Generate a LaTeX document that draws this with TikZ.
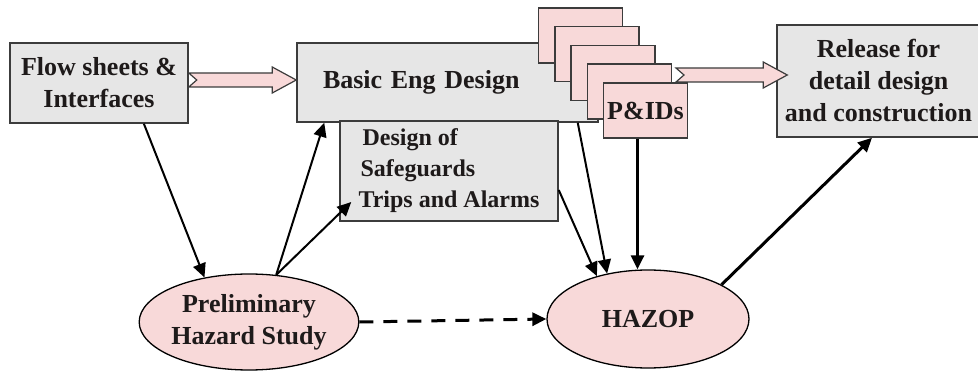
\documentclass[tikz,border=0pt]{standalone}
\usepackage{fontspec}
\setmainfont{Liberation Serif}
\usetikzlibrary{arrows.meta,shapes.geometric,calc}

\definecolor{boxgray}{HTML}{E6E6E6}
\definecolor{blobpink}{HTML}{F8D9D9}
\definecolor{edgegray}{HTML}{3C3C3C}
\definecolor{inkdark}{HTML}{1E1A1A}

\newcommand{\diagfont}{\fontsize{26}{32}\selectfont\bfseries}

\tikzset{
  graybox/.style={draw=edgegray, line width=1.5pt, fill=boxgray, inner sep=0pt,
    align=center, font=\diagfont},
  sheet/.style={draw=edgegray, line width=1.5pt, fill=blobpink, inner sep=0pt,
    minimum width=84pt, minimum height=55pt, font=\diagfont},
  blob/.style={ellipse, draw=black, line width=1.3pt, fill=blobpink, inner sep=0pt,
    align=center, font=\diagfont},
  conn/.style={line width=2pt, -{Triangle[length=14pt,width=13pt]}},
  fatarrow/.style={draw=edgegray, line width=1.2pt, fill=blobpink, line join=miter}
}

% hollow block arrow: start, tip
\newcommand{\hollowarrow}[2]{%
  \draw[fatarrow] let \p1=(#1), \p2=(#2) in
    (\x1,\y1+7pt) -- (\x2-24pt,\y1+7pt) -- (\x2-24pt,\y1+13pt) -- (\x2,\y1)
    -- (\x2-24pt,\y1-13pt) -- (\x2-24pt,\y1-7pt) -- (\x1,\y1-7pt)
    -- (\x1+8pt,\y1) -- cycle;}

\begin{document}
\begin{tikzpicture}[x=1pt,y=-1pt,text=inkdark]
\useasboundingbox (0,0) rectangle (978,371);

% boxes
\node[graybox, minimum width=178pt, minimum height=80pt] (flow) at (99,83)
  {Flow sheets \&\\Interfaces};
\node[graybox, minimum width=301pt, minimum height=79pt, text width=249pt,
  inner xsep=26pt, align=left] (basic) at (447.5,82.5) {Basic Eng Design};
\node[graybox, minimum width=218pt, minimum height=100pt, align=left,
  font=\fontsize{24}{31}\selectfont\bfseries] (design) at (449,171)
  {\hspace*{4pt}Design of\\\hspace*{2pt}Safeguards\\Trips and Alarms};
\node[graybox, minimum width=203pt, minimum height=112pt] (release) at (878.5,81)
  {Release for\\detail design\\and construction};

% stack of drawings
\foreach \i in {0,...,3}
  \node[sheet] (pg\i) at (580.5+16.25*\i, 35.5+18.75*\i) {};
\node[sheet] (pid) at (645.5,110.5) {P\&IDs};

% studies
\node[blob, minimum width=196pt, minimum height=96pt] (prelim) at (249,322)
  {Preliminary\\Hazard Study};
\node[blob, minimum width=202pt, minimum height=98pt] (hazop) at (648,319) {HAZOP};

% block arrows
\hollowarrow{[yshift=3pt]flow.east}{[yshift=3pt]basic.west}
\hollowarrow{[xshift=4pt,yshift=16.75pt]pg3.east}{[xshift=11pt,yshift=6pt]release.west}

% connectors
\draw[conn] ($(flow.south west)!0.75!(flow.south east)$) -- (prelim.135);
\draw[conn] (prelim.60) -- ([xshift=28pt]basic.south west);
\draw[conn] (prelim.60) -- ([xshift=12pt,yshift=-31pt]design.west);
\draw[conn] ([yshift=-19pt]design.east) -- (hazop.140);
\draw[conn] ([xshift=-21pt]basic.south east) -- (hazop.132);
\draw[conn, line width=3pt] ([xshift=-8pt]pid.south) -- ([xshift=-8pt]pid.south |- hazop.north);
\draw[conn, line width=3pt] (hazop.25) -- ([xshift=-6.5pt]release.south);
\draw[conn, line width=3pt, dash pattern=on 14pt off 10pt] (prelim.east) -- (hazop.west);
\end{tikzpicture}
\end{document}
